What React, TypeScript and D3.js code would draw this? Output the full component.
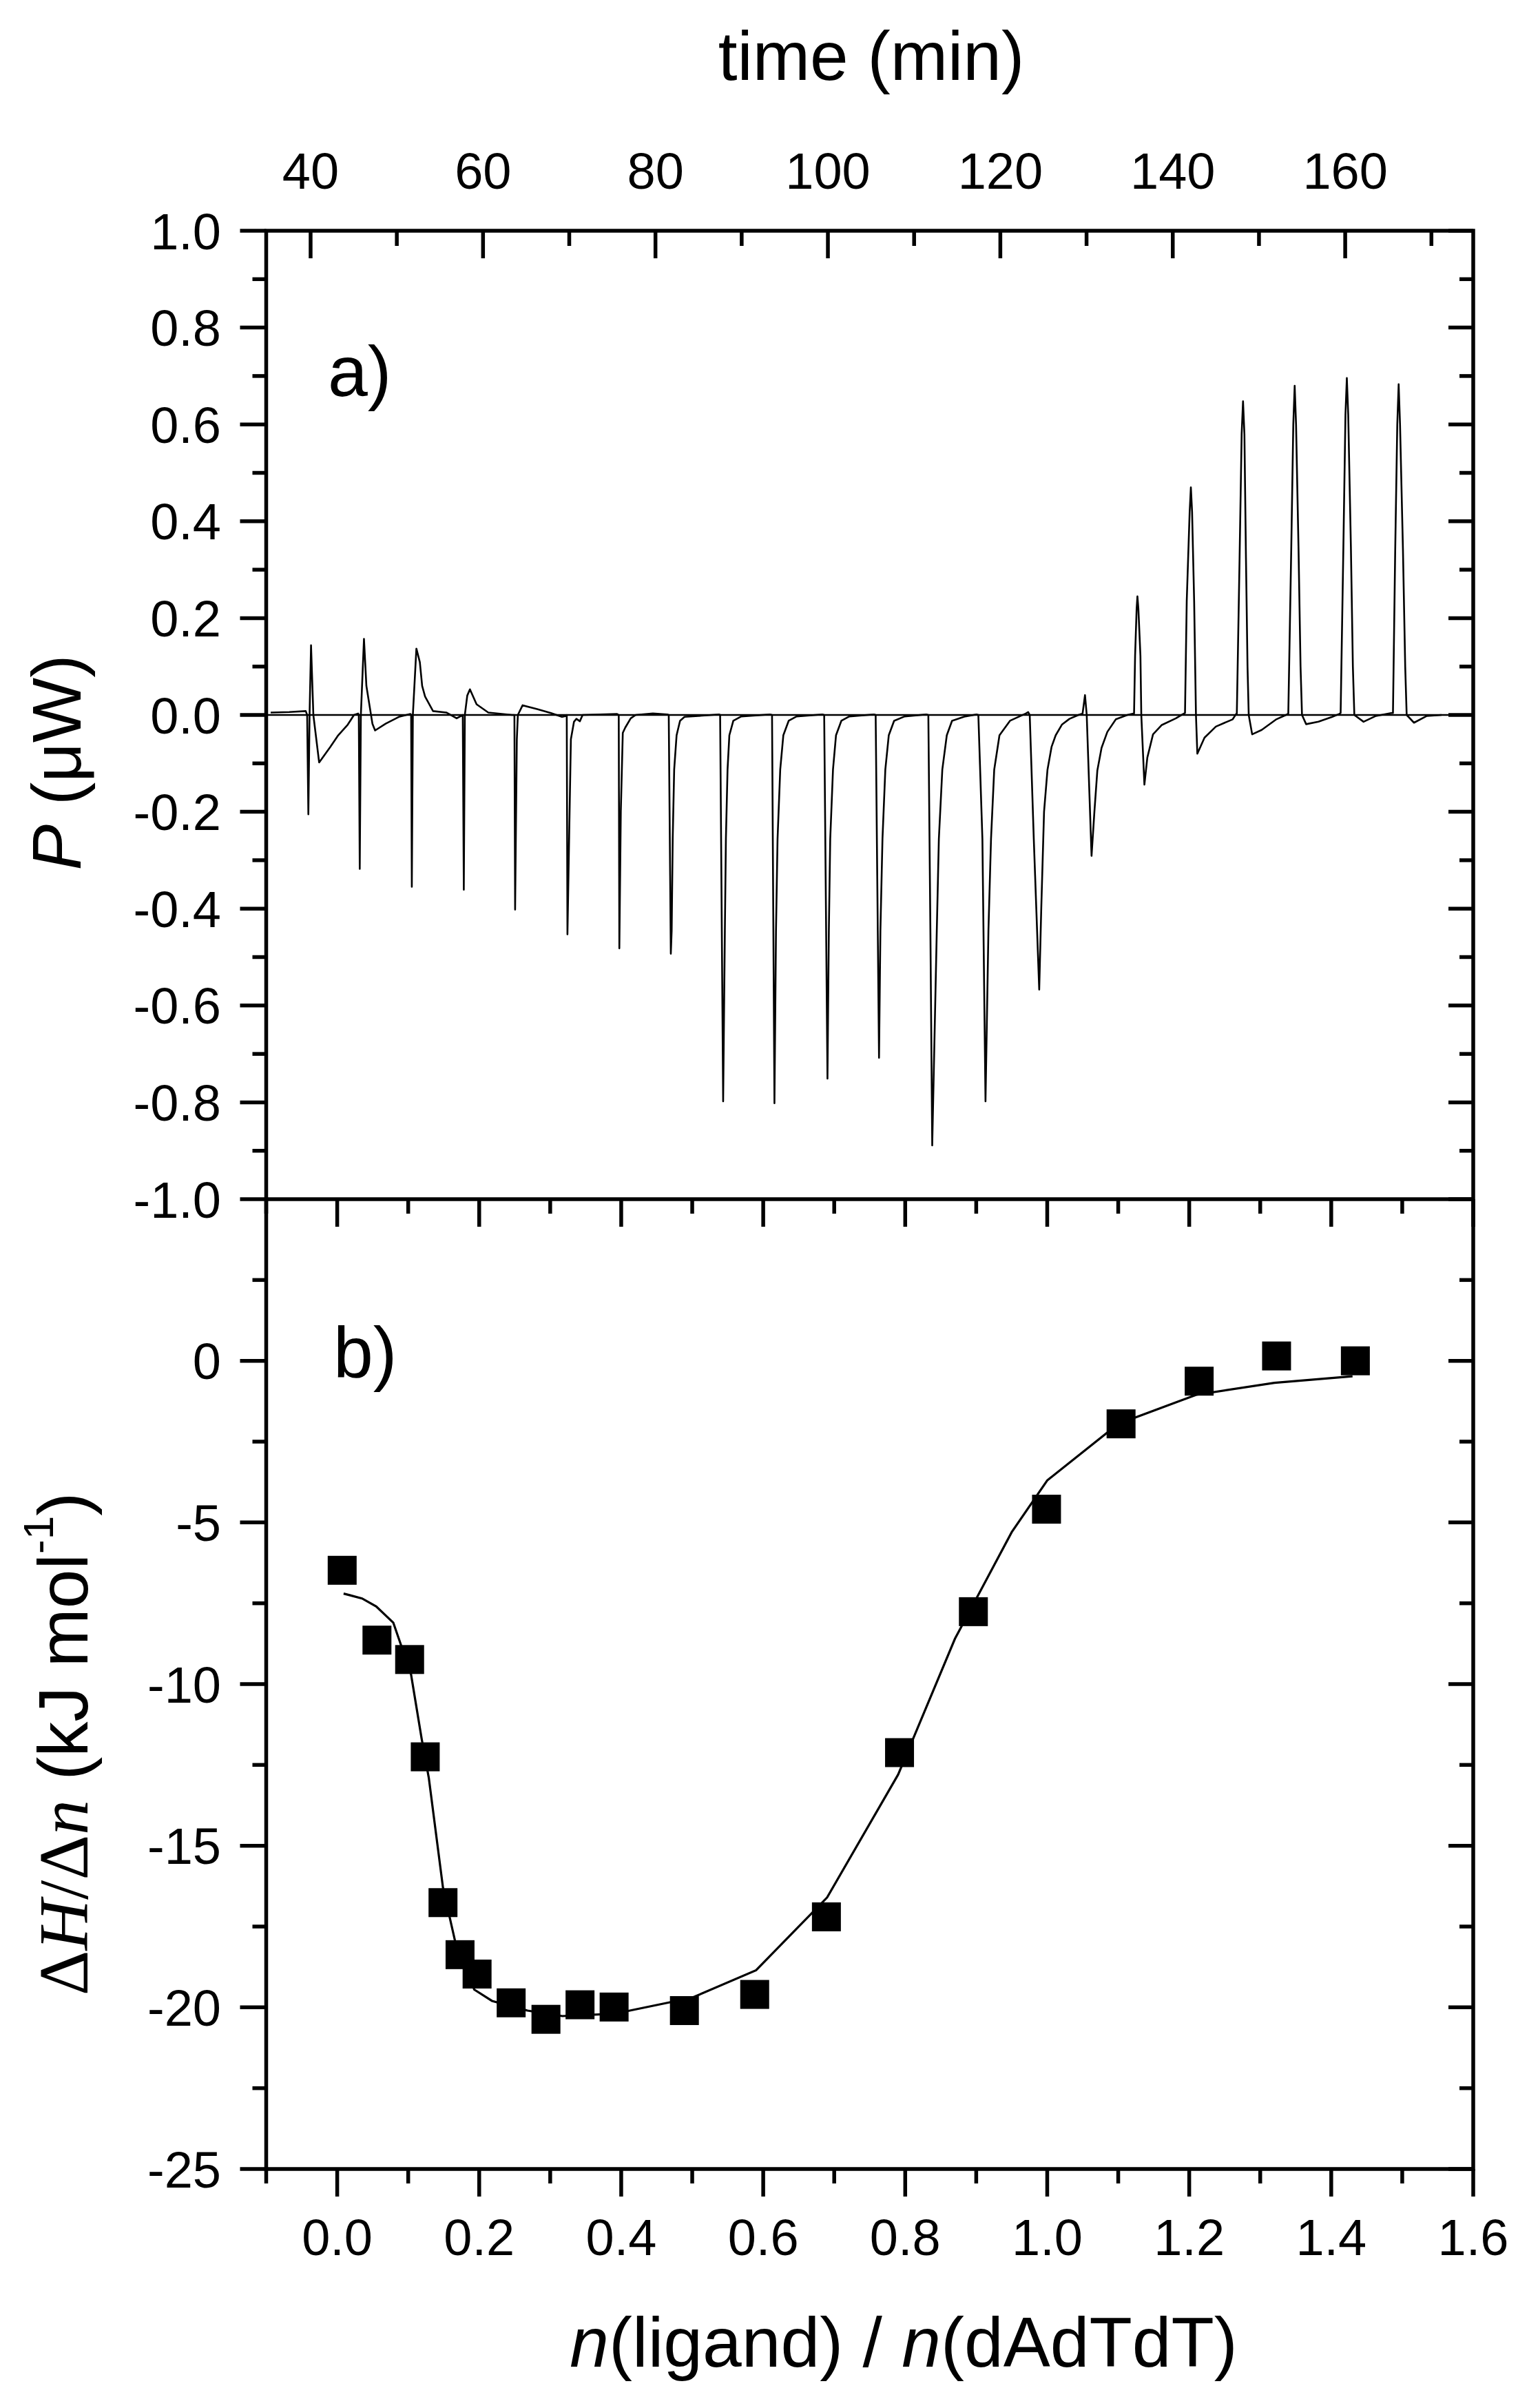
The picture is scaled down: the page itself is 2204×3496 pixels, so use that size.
import React, { useEffect, useRef } from 'react';
import * as d3 from 'd3';

// ---- data ----

// top panel: thermogram vertices [time (min), P (uW)]
const thermogram: [number, number][] = [
  [35.37, 0.005], [37.53, 0.006], [39.44, 0.008],
  [39.6, 0.0], [39.74, -0.205], [39.88, 0.0], [40.05, 0.144], [40.32, 0.0], [40.99, -0.098], [42.28, -0.066], [43.2, -0.042], [44.31, -0.02], [45.03, 0.0], [45.51, 0.003],
  [45.59, 0.0], [45.7, -0.318], [45.83, 0.0], [46.19, 0.157], [46.47, 0.06], [47.17, -0.018], [47.48, -0.032], [48.71, -0.018], [50.23, -0.004], [51.58, 0.002],
  [51.66, 0.0], [51.74, -0.355], [51.86, 0.0], [52.27, 0.137], [52.67, 0.109], [52.94, 0.06], [53.28, 0.038], [54.2, 0.008], [55.74, 0.005], [56.94, -0.007], [57.65, 0.0],
  [57.77, -0.361], [57.89, 0.0], [58.17, 0.04], [58.48, 0.053], [59.25, 0.022], [60.61, 0.005], [63.36, 0.0],
  [63.64, 0.0], [63.72, -0.402], [63.92, -0.05], [64.04, 0.0], [64.59, 0.02], [66.28, 0.012], [67.88, 0.004], [69.16, -0.004], [69.63, -0.002],
  [69.71, 0.0], [69.79, -0.453], [69.99, -0.25], [70.19, -0.05], [70.55, -0.014], [70.83, -0.008], [71.23, -0.013], [71.55, 0.0], [75.55, 0.002],
  [75.74, 0.0], [75.81, -0.482], [75.98, -0.2], [76.21, -0.037], [76.5, -0.026], [77.13, -0.007], [77.7, 0.0], [79.7, 0.003], [81.38, 0.001],
  [81.54, 0.0], [81.78, -0.493], [81.88, -0.445], [82.0, -0.256], [82.17, -0.113], [82.45, -0.042], [82.85, -0.012], [83.37, -0.004], [87.37, 0.001],
  [87.5, 0.0], [87.85, -0.798], [88.05, -0.445], [88.17, -0.256], [88.36, -0.113], [88.57, -0.042], [89.03, -0.012], [89.95, -0.003], [93.28, 0.001],
  [93.52, 0.0], [93.8, -0.802], [93.98, -0.445], [94.16, -0.256], [94.47, -0.113], [94.83, -0.042], [95.45, -0.012], [96.37, -0.003], [99.35, 0.001],
  [99.57, 0.0], [99.95, -0.751], [100.11, -0.445], [100.27, -0.256], [100.59, -0.113], [100.94, -0.042], [101.56, -0.012], [102.48, -0.003], [105.34, 0.001],
  [105.54, 0.0], [105.93, -0.708], [106.09, -0.445], [106.33, -0.256], [106.66, -0.113], [107.06, -0.042], [107.68, -0.012], [108.9, -0.003], [111.41, 0.001],
  [111.65, 0.0], [111.89, -0.45], [112.1, -0.889], [112.63, -0.445], [112.87, -0.256], [113.27, -0.113], [113.79, -0.042], [114.4, -0.012], [115.93, -0.003], [117.24, 0.001],
  [117.45, 0.0], [117.92, -0.256], [118.28, -0.798], [118.62, -0.445], [118.92, -0.256], [119.29, -0.113], [119.9, -0.042], [121.12, -0.012], [122.96, 0.003], [123.23, 0.006],
  [123.41, 0.0], [123.88, -0.256], [124.51, -0.567], [124.75, -0.398], [125.07, -0.2], [125.47, -0.113], [125.94, -0.066], [126.42, -0.042], [127.14, -0.02], [128.02, -0.008], [129.06, 0.0],
  [129.54, 0.003], [129.82, 0.041], [130.02, 0.0], [130.58, -0.291], [130.91, -0.2], [131.25, -0.115], [131.74, -0.068], [132.41, -0.035], [133.4, -0.009], [134.73, 0.0],
  [135.51, 0.003], [135.63, 0.122], [135.81, 0.22], [135.9, 0.245], [136.01, 0.22], [136.25, 0.122], [136.35, 0.0], [136.71, -0.144], [137.05, -0.088], [137.71, -0.04], [138.7, -0.021], [140.36, -0.007], [141.2, 0.002],
  [141.42, 0.004], [141.62, 0.235], [141.96, 0.42], [142.1, 0.47], [142.24, 0.42], [142.48, 0.235], [142.69, 0.0], [142.85, -0.08], [143.68, -0.047], [145.0, -0.024], [146.95, -0.009], [147.35, 0.002],
  [147.43, 0.003], [147.75, 0.324], [147.99, 0.58], [148.15, 0.648], [148.31, 0.58], [148.49, 0.324], [148.67, 0.1], [148.81, 0.0], [149.21, -0.04], [150.31, -0.031], [151.96, -0.0095], [153.26, 0.001],
  [153.4, 0.003], [153.74, 0.34], [153.98, 0.6], [154.14, 0.68], [154.3, 0.6], [154.59, 0.34], [154.82, 0.1], [154.99, 0.0], [155.47, -0.019], [156.9, -0.014], [158.49, -0.004], [159.29, 0.002],
  [159.47, 0.004], [159.79, 0.348], [160.03, 0.62], [160.19, 0.696], [160.35, 0.62], [160.66, 0.348], [160.89, 0.1], [161.06, 0.0], [162.13, -0.014], [163.56, -0.002], [165.32, 0.004],
  [165.54, 0.004], [165.8, 0.34], [166.04, 0.6], [166.2, 0.683], [166.36, 0.6], [166.7, 0.34], [166.96, 0.1], [167.13, 0.0], [167.98, -0.016], [169.47, -0.002], [171.18, 0.0],
];

// bottom panel: integrated heats
const molarRatio = [0.007, 0.056, 0.102, 0.124, 0.149, 0.173, 0.197, 0.245, 0.294, 0.342, 0.39, 0.489, 0.588, 0.689, 0.792, 0.896, 0.999, 1.104, 1.214, 1.323, 1.434];
const heatPerMole = [-6.48, -8.64, -9.24, -12.25, -16.76, -18.37, -18.97, -19.86, -20.37, -19.92, -19.99, -20.1, -19.6, -17.2, -12.12, -7.76, -4.59, -1.95, -0.63, 0.15, 0.0];

// bottom panel: fitted curve
const fitRatio = [0.009, 0.035, 0.055, 0.079, 0.09, 0.104, 0.119, 0.129, 0.149, 0.166, 0.193, 0.218, 0.268, 0.317, 0.39, 0.5, 0.59, 0.69, 0.79, 0.87, 0.95, 1.0, 1.1, 1.21, 1.32, 1.43];
const fitHeat = [-7.2, -7.35, -7.6, -8.1, -8.8, -9.7, -11.7, -12.9, -16.3, -17.95, -19.45, -19.8, -20.1, -20.27, -20.2, -19.7, -18.85, -16.6, -12.8, -8.6, -5.3, -3.7, -1.95, -1.05, -0.68, -0.48];

// tick values
const timeMajor = [40, 60, 80, 100, 120, 140, 160];
const timeMinor = [50, 70, 90, 110, 130, 150, 170];
const powerMajor = [1.0, 0.8, 0.6, 0.4, 0.2, 0.0, -0.2, -0.4, -0.6, -0.8, -1.0];
const powerMinor = [0.9, 0.7, 0.5, 0.3, 0.1, -0.1, -0.3, -0.5, -0.7, -0.9];
const ratioMajor = [0.0, 0.2, 0.4, 0.6, 0.8, 1.0, 1.2, 1.4, 1.6];
const ratioMinor = [-0.1, 0.1, 0.3, 0.5, 0.7, 0.9, 1.1, 1.3, 1.5];
const heatMajor = [0, -5, -10, -15, -20, -25];
const heatMinor = [2.5, -2.5, -7.5, -12.5, -17.5, -22.5];

const W = 2204;
const H = 3496;

const App = () => {
  const svgRef = useRef<SVGSVGElement>(null);

  useEffect(() => {
    const svg = d3.select(svgRef.current);
    svg.selectAll('*').remove();

    const left = 386.5;
    const right = 2139;
    const top = 335;
    const mid = 1741;
    const bottom = 3149;
    const sans = '"Liberation Sans", Arial, sans-serif';
    const serif = '"Liberation Serif", "Times New Roman", serif';
    const tickFont = 74;

    const xTime = d3.scaleLinear().domain([34.85, 174.85]).range([left, right]);
    const yPower = d3.scaleLinear().domain([-1, 1]).range([mid, top]);
    const xRatio = d3.scaleLinear().domain([-0.1, 1.6]).range([left, right]);
    const yHeat = d3.scaleLinear().domain([-25, 5]).range([bottom, mid]);

    const g = svg.append('g');

    // ---- ticks ----
    const tick = (x1: number, y1: number, x2: number, y2: number) =>
      g.append('line')
        .attr('x1', x1).attr('y1', y1).attr('x2', x2).attr('y2', y2)
        .attr('stroke', '#000').attr('stroke-width', 5.5);

    // top axis (time), inward
    timeMajor.forEach((t) => tick(xTime(t), top, xTime(t), top + 40));
    timeMinor.forEach((t) => tick(xTime(t), top, xTime(t), top + 22));

    // power axis: left outward, right inward
    powerMajor.forEach((p) => {
      tick(left - 38, yPower(p), left, yPower(p));
      tick(right - 36, yPower(p), right, yPower(p));
    });
    powerMinor.forEach((p) => {
      tick(left - 20, yPower(p), left, yPower(p));
      tick(right - 20, yPower(p), right, yPower(p));
    });

    // ratio axis: bottom outward, top (middle line) inward
    ratioMajor.forEach((r) => {
      tick(xRatio(r), bottom, xRatio(r), bottom + 40);
      tick(xRatio(r), mid, xRatio(r), mid + 40);
    });
    ratioMinor.forEach((r) => {
      tick(xRatio(r), bottom, xRatio(r), bottom + 21);
      tick(xRatio(r), mid, xRatio(r), mid + 21);
    });

    // heat axis
    heatMajor.forEach((h) => {
      tick(left - 38, yHeat(h), left, yHeat(h));
      tick(right - 36, yHeat(h), right, yHeat(h));
    });
    heatMinor.forEach((h) => {
      tick(left - 20, yHeat(h), left, yHeat(h));
      tick(right - 20, yHeat(h), right, yHeat(h));
    });

    // ---- tick labels ----
    const label = (x: number, y: number, txt: string, anchor: string) =>
      g.append('text')
        .attr('x', x).attr('y', y)
        .attr('text-anchor', anchor)
        .attr('font-family', sans)
        .attr('font-size', tickFont)
        .attr('fill', '#000')
        .text(txt);

    timeMajor.forEach((t) => label(xTime(t), 274, String(t), 'middle'));
    powerMajor.forEach((p) => label(321, yPower(p) + 26.5, p.toFixed(1), 'end'));
    heatMajor.forEach((h) => label(321, yHeat(h) + 26.5, String(h), 'end'));
    ratioMajor.forEach((r) => label(xRatio(r), 3274, r.toFixed(1), 'middle'));

    // ---- zero line in thermogram ----
    g.append('line')
      .attr('x1', left).attr('x2', right)
      .attr('y1', yPower(0)).attr('y2', yPower(0))
      .attr('stroke', '#000').attr('stroke-width', 2.4);

    // ---- thermogram ----
    const thermoLine = d3.line<[number, number]>()
      .x((d) => xTime(d[0]))
      .y((d) => yPower(d[1]));
    g.append('path')
      .attr('d', thermoLine(thermogram))
      .attr('fill', 'none')
      .attr('stroke', '#000')
      .attr('stroke-width', 2.6)
      .attr('stroke-linejoin', 'round');

    // ---- fit curve ----
    const fitLine = d3.line<number>()
      .x((d, i) => xRatio(fitRatio[i]))
      .y((d) => yHeat(d));
    g.append('path')
      .attr('d', fitLine(fitHeat))
      .attr('fill', 'none')
      .attr('stroke', '#000')
      .attr('stroke-width', 3.2);

    // ---- squares ----
    const sq = 42;
    g.selectAll('rect.pt')
      .data(molarRatio)
      .enter()
      .append('rect')
      .attr('class', 'pt')
      .attr('x', (d) => xRatio(d) - sq / 2)
      .attr('y', (d, i) => yHeat(heatPerMole[i]) - sq / 2)
      .attr('width', sq)
      .attr('height', sq)
      .attr('fill', '#000');

    // ---- frame ----
    g.append('rect')
      .attr('x', left).attr('y', top)
      .attr('width', right - left).attr('height', bottom - top)
      .attr('fill', 'none').attr('stroke', '#000').attr('stroke-width', 5.5);
    g.append('line')
      .attr('x1', left).attr('x2', right)
      .attr('y1', mid).attr('y2', mid)
      .attr('stroke', '#000').attr('stroke-width', 5.5);

    // ---- axis titles ----
    g.append('text')
      .attr('x', 1265).attr('y', 116)
      .attr('text-anchor', 'middle')
      .attr('font-family', sans).attr('font-size', 100)
      .text('time (min)');

    const pTitle = g.append('text')
      .attr('transform', 'translate(117,1107) rotate(-90)')
      .attr('text-anchor', 'middle')
      .attr('font-family', sans).attr('font-size', 100);
    pTitle.append('tspan').attr('font-style', 'italic').text('P');
    pTitle.append('tspan').text(' (μW)');

    const hTitle = g.append('text')
      .attr('transform', 'translate(127,2532) rotate(-90)')
      .attr('text-anchor', 'middle')
      .attr('font-family', sans).attr('font-size', 102);
    hTitle.append('tspan').attr('font-family', serif).text('Δ');
    hTitle.append('tspan').attr('font-family', serif).attr('font-style', 'italic').text('H');
    hTitle.append('tspan').attr('font-family', serif).text('/Δ');
    hTitle.append('tspan').attr('font-family', serif).attr('font-style', 'italic').text('n');
    hTitle.append('tspan').text(' (kJ mol');
    hTitle.append('tspan').attr('font-size', 62).attr('dy', -50).text('-1');
    hTitle.append('tspan').attr('dy', 50).text(')');

    const xTitle = g.append('text')
      .attr('x', 1312).attr('y', 3436)
      .attr('text-anchor', 'middle')
      .attr('font-family', sans).attr('font-size', 102);
    xTitle.append('tspan').attr('font-style', 'italic').text('n');
    xTitle.append('tspan').text('(ligand) / ');
    xTitle.append('tspan').attr('font-style', 'italic').text('n');
    xTitle.append('tspan').text('(dAdTdT)');

    // ---- panel labels ----
    g.append('text')
      .attr('x', 476).attr('y', 575)
      .attr('font-family', sans).attr('font-size', 104)
      .text('a)');
    g.append('text')
      .attr('x', 484).attr('y', 1999)
      .attr('font-family', sans).attr('font-size', 104)
      .text('b)');
  }, []);

  return (
    <svg
      ref={svgRef}
      width={W}
      height={H}
      style={{ position: 'absolute', left: 0, top: 0, background: '#fff', display: 'block' }}
    ></svg>
  );
};

export default App;
